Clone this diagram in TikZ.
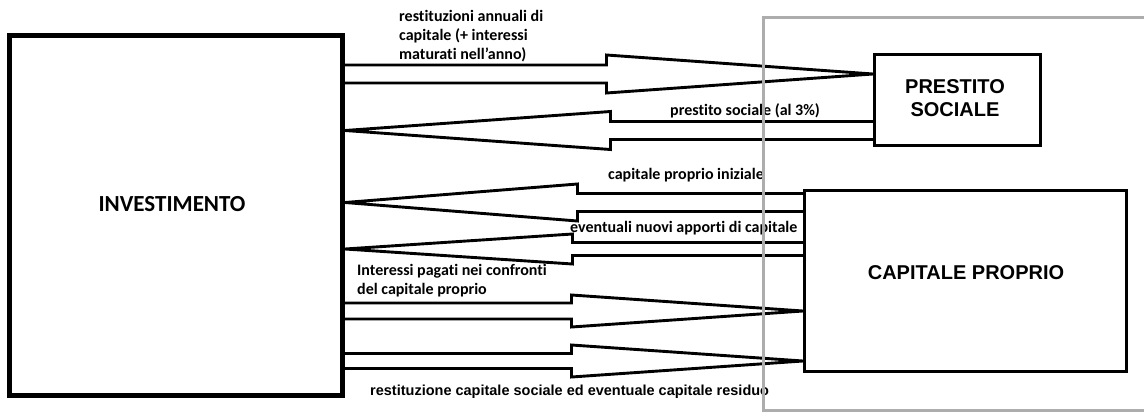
\documentclass[tikz,border=0pt]{standalone}
\usepackage{fontspec}
\setmainfont{Carlito}[Ligatures=NoCommon]
\newfontfamily\arialfamily{Liberation Sans}
\usetikzlibrary{calc}

% Hollow block arrow from #1 to #2 (horizontal):
% #3 head length, #4 half shaft width, #5 half head width
\newcommand{\blockarrow}[5]{%
  \draw[flow] let \p1=(#1), \p2=(#2),
        \n2={\x2-#3*sign(\x2-\x1)} in
    (\x1,{\y2+#4}) -- (\n2,{\y2+#4}) -- (\n2,{\y2+#5}) -- (\x2,\y2)
    -- (\n2,{\y2-#5}) -- (\n2,{\y2-#4}) -- (\x1,{\y2-#4});}

\tikzset{
  heavybox/.style={draw=black, line width=5pt, inner sep=0pt},
  sidebox/.style={draw=black, line width=3pt, inner sep=0pt},
  flow/.style={draw=black, line width=2.9pt, line join=miter},
  frame/.style={draw=black!32, line width=3pt},
  title/.style={inner sep=0pt, font=\bfseries\fontsize{23}{27}\selectfont},
  arialtitle/.style={inner sep=0pt, align=center,
    font=\arialfamily\bfseries\fontsize{20}{23}\selectfont},
  note/.style={inner sep=0pt, anchor=base west, align=left,
    font=\bfseries\fontsize{16}{19}\selectfont},
  arialnote/.style={inner sep=0pt, anchor=base west,
    font=\arialfamily\bfseries\fontsize{14.5}{17}\selectfont},
}

\begin{document}
\begin{tikzpicture}[x=1pt,y=-1pt]
\useasboundingbox (0,0) rectangle (1144,413);
\fill[white] (0,0) rectangle (1144,413);

% boxes
\node[heavybox, minimum width=333pt, minimum height=360pt] (inv) at (176,215.5) {};
\node[title] (invtext) at ($(inv.center)+(-4,-11)$) {INVESTIMENTO};

\node[sidebox, minimum width=166pt, minimum height=91pt] (pre) at (957.5,100) {};
\node[arialtitle] (pretext) at ($(pre.center)+(-2.5,-1.6)$) {PRESTITO\\SOCIALE};

\node[sidebox, minimum width=322pt, minimum height=181pt] (cap) at (965.5,281) {};
\node[arialtitle] (captext) at ($(cap.center)+(0.5,-8.5)$) {CAPITALE PROPRIO};

% arrow heights
\coordinate (r1) at (0,74);
\coordinate (r2) at (0,130.5);
\coordinate (r3) at (0,202.5);
\coordinate (r4) at (0,249);
\coordinate (r5) at (0,311);
\coordinate (r6) at (0,361);

% flows
\blockarrow{inv.east |- r1}{pre.west |- r1}{266.5}{9}{19}
\blockarrow{pre.west |- r2}{inv.east |- r2}{265.5}{9}{19}
\blockarrow{cap.west |- r3}{inv.east |- r3}{232.5}{9}{18.5}
\blockarrow{cap.west |- r4}{inv.east |- r4}{227.5}{6.5}{15}
\blockarrow{inv.east |- r5}{cap.west |- r5}{231.5}{8}{16}
\blockarrow{inv.east |- r6}{cap.west |- r6}{231.5}{7.5}{16}

% flow labels (base anchor of a multi-line label is its last line)
\node[note] (l1) at (399,59) {restituzioni annuali di\\capitale (+ interessi\\maturati nell'anno)};
\node[note] (l2) at (670,115) {prestito sociale (al 3\%)};
\node[note] (l3) at (608,179) {capitale proprio iniziale};
\node[note] (l4) at (570,232) {eventuali nuovi apporti di capitale};
\node[note] (l5) at (357,294) {Interessi pagati nei confronti\\del capitale proprio};
\node[arialnote] (l6) at (370,395) {restituzione capitale sociale ed eventuale capitale residuo};

% outer frame around the funding sources
\draw[frame] (1150,17) -- (763,17) -- (763,410) -- (1150,410);
\end{tikzpicture}
\end{document}
